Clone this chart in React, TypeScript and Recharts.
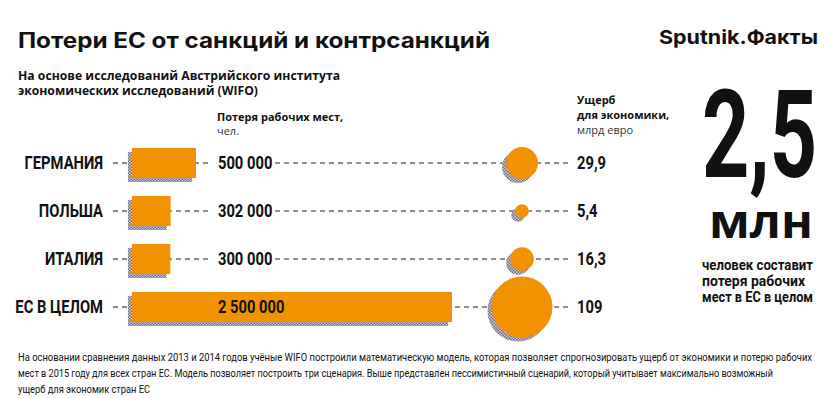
import {
  ComposedChart,
  Bar,
  Scatter,
  XAxis,
  YAxis,
  ZAxis,
  LabelList,
} from "recharts";

const countries = ["ГЕРМАНИЯ", "ПОЛЬША", "ИТАЛИЯ", "ЕС В ЦЕЛОМ"];
const jobsLost = [500000, 302000, 300000, 2500000];
const damage = [29.9, 5.4, 16.3, 109];

const data = countries.map((name, i) => ({
  name,
  jobs: jobsLost[i],
  damage: damage[i],
}));

const ORANGE = "#f39200";
const INK = "#111111";
const COND_FONT = "Roboto, 'DejaVu Sans', sans-serif";
const SANS = "'Open Sans', 'Noto Sans', sans-serif";
const TITLE = "Inter, 'Open Sans', sans-serif";
const COND = 0.82; // horizontal squeeze to fake a condensed face

// horizontal spot of the bubble column on a 0..1 helper axis
const BUBBLE_COL = 0.895;
const LABEL_OFFSET = 86;

const fmtJobs = (v: number) => String(v).replace(/\B(?=(\d{3})+(?!\d))/g, " ");
const fmtDamage = (v: number) => String(v).replace(".", ",");

function CondText({ x, y, anchor, children }: any) {
  return (
    <text
      transform={`translate(${x} ${y}) scale(${COND} 1)`}
      textAnchor={anchor}
      dy="0.36em"
      fill={INK}
      fontFamily={COND_FONT}
      fontWeight={700}
      fontSize={18}
    >
      {children}
    </text>
  );
}

function CountryTick(props: any) {
  const { x, y, payload } = props;
  return <CondText x={x} y={y} anchor="end">{payload.value}</CondText>;
}

function DamageTick(props: any) {
  const { x, y, index } = props;
  return <CondText x={x} y={y} anchor="start">{fmtDamage(damage[index])}</CondText>;
}

// dashed row guide, drawn as the bar's background so it stays underneath
function RowLine(props: any) {
  const { x, y, width, height } = props;
  const cy = y + height / 2;
  return (
    <line
      x1={x}
      x2={x + width}
      y1={cy}
      y2={cy}
      stroke="#222"
      strokeWidth={1.2}
      strokeDasharray="5 4"
    />
  );
}

function BarWithShadow(props: any) {
  const { x, y, width, height } = props;
  return (
    <g>
      <rect x={x - 4} y={y + 4} width={width} height={height} fill="url(#hatch)" />
      <rect x={x} y={y} width={width} height={height} fill={ORANGE} />
    </g>
  );
}

function JobsLabel(props: any) {
  const { x, y, width, height, value } = props;
  const tx = x + LABEL_OFFSET;
  const cy = y + height / 2;
  const text = fmtJobs(value);
  const covered = x + width > tx;
  return (
    <g>
      {!covered && (
        <rect x={tx - 6} y={cy - 10} width={text.length * 8.3 * COND + 12} height={20} fill="#fff" />
      )}
      <CondText x={tx} y={cy} anchor="start">{text}</CondText>
    </g>
  );
}

function Bubble(props: any) {
  const { cx, cy, width } = props;
  const r = width / 2;
  return (
    <g>
      <circle cx={cx - 4} cy={cy + 4} r={r} fill="url(#hatch)" />
      <circle cx={cx} cy={cy} r={r} fill={ORANGE} />
    </g>
  );
}

export default function App() {
  return (
    <div
      style={{
        position: "absolute",
        left: 0,
        top: 0,
        width: 837,
        height: 398,
        background: "#fff",
        overflow: "hidden",
      }}
    >
      <ComposedChart
        width={837}
        height={398}
        data={data}
        layout="vertical"
        margin={{ top: 139, right: 207, bottom: 67, left: 0 }}
      >
        <defs>
          <pattern id="hatch" width="3" height="3" patternUnits="userSpaceOnUse">
            <rect width="3" height="3" fill="#cfc9d2" />
            <rect width="1.5" height="1.5" fill="#76687e" />
            <rect x="1.5" y="1.5" width="1.5" height="1.5" fill="#76687e" />
          </pattern>
        </defs>
        <XAxis xAxisId="jobs" type="number" domain={[-148000, 3422000]} hide />
        <XAxis xAxisId="dmg" type="number" domain={[0, 1]} dataKey={() => BUBBLE_COL} hide />
        <YAxis
          yAxisId="left"
          type="category"
          dataKey="name"
          width={113}
          axisLine={false}
          tickLine={false}
          tickSize={0}
          tickMargin={10}
          interval={0}
          tick={CountryTick}
        />
        <YAxis
          yAxisId="right"
          orientation="right"
          type="category"
          dataKey="name"
          width={60}
          axisLine={false}
          tickLine={false}
          tickSize={0}
          tickMargin={7}
          interval={0}
          tick={DamageTick}
        />
        <ZAxis dataKey="damage" type="number" domain={[0, 109]} range={[0, 2922]} />
        <Bar
          dataKey="jobs"
          xAxisId="jobs"
          yAxisId="left"
          barSize={30}
          background={RowLine}
          shape={BarWithShadow}
          isAnimationActive={false}
        >
          <LabelList dataKey="jobs" content={JobsLabel} />
        </Bar>
        <Scatter
          xAxisId="dmg"
          yAxisId="left"
          shape={Bubble}
          isAnimationActive={false}
        />
      </ComposedChart>

      <svg
        width={837}
        height={398}
        style={{ position: "absolute", left: 0, top: 0, pointerEvents: "none" }}
      >
        <text x={18} y={48} fontFamily={TITLE} fontWeight={700} fontSize={21} fill={INK} textLength={472} lengthAdjust="spacingAndGlyphs">
          Потери ЕС от санкций и контрсанкций
        </text>
        <text x={659} y={44} fontFamily={TITLE} fontWeight={700} fontSize={19} fill={INK} textLength={159} lengthAdjust="spacingAndGlyphs">
          Sputnik.Факты
        </text>
        <g fontFamily={SANS} fontWeight={700} fontSize={13} fill={INK}>
          <text x={18} y={80} textLength={322} lengthAdjust="spacingAndGlyphs">На основе исследований Австрийского института</text>
          <text x={18} y={95} textLength={240} lengthAdjust="spacingAndGlyphs">экономических исследований (WIFO)</text>
        </g>
        <g fontFamily={SANS} fontSize={11} fill={INK}>
          <text x={217} y={121} fontWeight={700}>Потеря рабочих мест,</text>
          <text x={217} y={135} fill="#333">чел.</text>
          <text x={577} y={104} fontWeight={700}>Ущерб</text>
          <text x={577} y={119} fontWeight={700}>для экономики,</text>
          <text x={577} y={134} fill="#333">млрд евро</text>
        </g>
        <text x={702} y={177} fontFamily={COND_FONT} fontWeight={700} fontSize={122} fill={INK} textLength={115} lengthAdjust="spacingAndGlyphs">
          2,5
        </text>
        <text x={709} y={238} fontFamily={SANS} fontWeight={700} fontSize={46} fill={INK} textLength={104} lengthAdjust="spacingAndGlyphs">
          млн
        </text>
        <g fontFamily={COND_FONT} fontWeight={700} fontSize={14} fill={INK}>
          <text x={702} y={270} textLength={111} lengthAdjust="spacingAndGlyphs">человек составит</text>
          <text x={702} y={286} textLength={103} lengthAdjust="spacingAndGlyphs">потеря рабочих</text>
          <text x={702} y={302} textLength={111} lengthAdjust="spacingAndGlyphs">мест в ЕС в целом</text>
        </g>
        <g fontFamily={COND_FONT} fontSize={11} fill={INK}>
          <text x={18} y={361} textLength={794} lengthAdjust="spacingAndGlyphs">
            На основании сравнения данных 2013 и 2014 годов учёные WIFO построили математическую модель, которая позволяет спрогнозировать ущерб от экономики и потерю рабочих
          </text>
          <text x={18} y={377} textLength={755} lengthAdjust="spacingAndGlyphs">
            мест в 2015 году для всех стран ЕС. Модель позволяет построить три сценария. Выше представлен пессимистичный сценарий, который учитывает максимально возможный
          </text>
          <text x={18} y={393} textLength={132} lengthAdjust="spacingAndGlyphs">
            ущерб для экономик стран ЕС
          </text>
        </g>
      </svg>
    </div>
  );
}
